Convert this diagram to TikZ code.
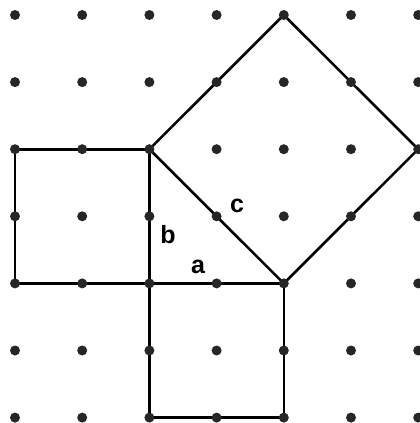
\documentclass[tikz,border=0pt]{standalone}
\usepackage{fontspec}
\setmainfont{Liberation Sans}
\begin{document}
\begin{tikzpicture}[x=1pt,y=-1pt,
  edge/.style={line width=2.6pt,black,line join=miter},
  griddot/.style={circle,fill=black!85,inner sep=0pt,minimum size=10pt},
  lbl/.style={font=\bfseries\fontsize{25}{25}\selectfont,inner sep=0pt}]
\useasboundingbox (0,0) rectangle (420,423);
\foreach \i in {0,...,6}{
  \foreach \j in {0,...,6}{
    \coordinate (p\i\j) at ({15+67.2*\i},{15+67.1*\j});
  }
}
% left square (b^2)
\draw[edge] (p02) -- (p22) -- (p24) -- (p04) -- cycle;
% bottom square (a^2)
\draw[edge] (p24) -- (p44) -- (p46) -- (p26) -- cycle;
% square on hypotenuse (c^2)
\draw[edge] (p22) -- (p40) -- (p62) -- (p44) -- cycle;
% dots
\foreach \i in {0,...,6}{
  \foreach \j in {0,...,6}{
    \node[griddot] (d\i\j) at (p\i\j) {};
  }
}
\node[lbl] (lb) at (168,235) {b};
\node[lbl] (lc) at (237,206) {c};
\node[lbl] (la) at (198,267) {a};
\end{tikzpicture}
\end{document}
